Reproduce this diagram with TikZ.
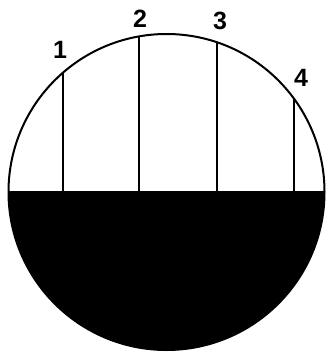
\documentclass[tikz,border=0pt]{standalone}
\usepackage{fontspec}
\setmainfont{Liberation Sans}
\begin{document}
\begin{tikzpicture}[x=1pt,y=-1pt,
  lbl/.style={font=\fontsize{25}{25}\selectfont\bfseries, inner sep=0pt},
  rim/.style={line width=2pt},
  tick/.style={line width=1.6pt}]
\useasboundingbox (0,0) rectangle (326,353);
\coordinate (c) at (166.5,192);
\begin{scope}
  \clip (c) circle[radius=158];
  \fill[black] (0,191) rectangle (326,353);
\end{scope}
\draw[rim] (c) circle[radius=158];
% tick tops on the circle and bottoms on the level line
\foreach \n/\x in {1/63,2/139,3/217,4/294}{
  \pgfmathsetmacro{\yt}{192-10*sqrt(15.8*15.8-((\x-166.5)/10)*((\x-166.5)/10))}
  \coordinate (t\n) at (\x,\yt);
  \coordinate (b\n) at (\x,191);
  \draw[tick] (t\n) -- (b\n);
}
\node[lbl] (l1) at (60,50) {1};
\node[lbl] (l2) at (140,19) {2};
\node[lbl] (l3) at (220,21) {3};
\node[lbl] (l4) at (301,78) {4};
\end{tikzpicture}
\end{document}
